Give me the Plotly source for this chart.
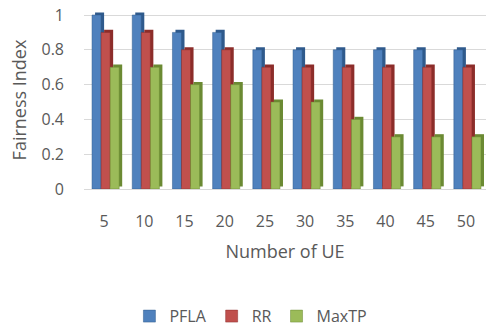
import plotly.graph_objects as go

categories = ["5", "10", "15", "20", "25", "30", "35", "40", "45", "50"]
pfla = [1.0, 1.0, 0.9, 0.9, 0.8, 0.8, 0.8, 0.8, 0.8, 0.8]
rr = [0.9, 0.9, 0.8, 0.8, 0.7, 0.7, 0.7, 0.7, 0.7, 0.7]
maxtp = [0.7, 0.7, 0.6, 0.6, 0.5, 0.5, 0.4, 0.3, 0.3, 0.3]
y_ticks = [0, 0.2, 0.4, 0.6, 0.8, 1]
y_tick_text = ["0", "0.2", "0.4", "0.6", "0.8", "1"]

series = [("PFLA", pfla, "#4f81bd", "#2f5a8c"),
          ("RR", rr, "#c0504d", "#8c2d2a"),
          ("MaxTP", maxtp, "#9bbb59", "#6b8a33")]

font = "Open Sans"
grey = "#595959"

bar_w = 0.225          # front face width (category units)
depth_x = 0.075        # side-face depth (category units)
depth_y = 0.015        # top-face depth (value units)
first_offset = -0.30

fig = go.Figure()
for i, (name, vals, col, dark) in enumerate(series):
    off = first_offset + i * bar_w
    # darker "depth" face behind, for a 3D look
    fig.add_trace(go.Bar(x=categories, y=vals, base=[depth_y] * len(vals),
                         offset=off + depth_x, width=bar_w,
                         marker_color=dark, marker_line_width=0,
                         showlegend=False, hoverinfo="skip"))
    fig.add_trace(go.Bar(x=categories, y=vals, name=name, offset=off, width=bar_w,
                         marker_color=col, marker_line=dict(color=dark, width=0.5)))

fig.update_layout(
    width=492, height=326,
    margin=dict(l=84, r=6, t=11, b=137, autoexpand=False),
    barmode="overlay",
    plot_bgcolor="white", paper_bgcolor="white",
    font=dict(family=font, size=16, color=grey),
    legend=dict(orientation="h", xref="container", yref="container",
                x=0.51, xanchor="center", y=0.03, yanchor="middle",
                font=dict(size=16, color=grey), itemwidth=30, traceorder="normal"),
    xaxis=dict(showgrid=False, showline=True, linecolor="#d9d9d9", ticks="",
               ticklabelstandoff=18, tickfont=dict(size=16, color=grey),
               title=dict(text="Number of UE", font=dict(size=18, color=grey), standoff=14)),
    yaxis=dict(range=[0, 1.023], tickvals=y_ticks, ticktext=y_tick_text, automargin=False,
               showgrid=True, gridcolor="#d9d9d9", gridwidth=1, zeroline=False,
               ticks="", ticklabelstandoff=19, tickfont=dict(size=16, color=grey),
               title=dict(text="Fairness Index", font=dict(size=18, color=grey), standoff=10)),
)
fig.write_html("out.html", config={"displayModeBar": False},
               post_script="document.body.style.margin='0';")
